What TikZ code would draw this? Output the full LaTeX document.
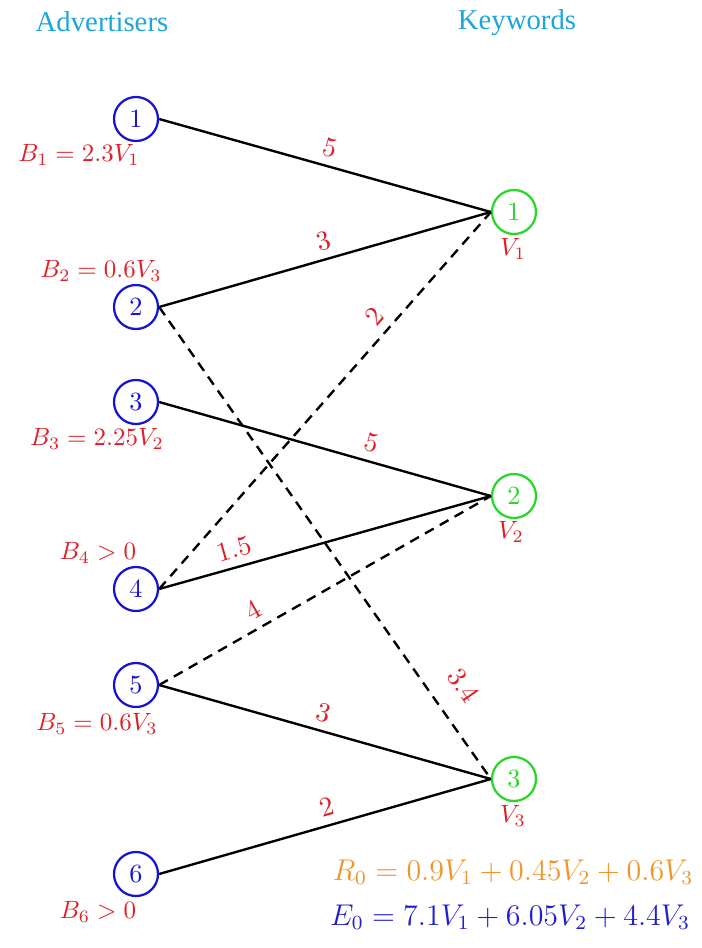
\documentclass[tikz,border=0pt]{standalone}
\usepackage{fontspec}
\newfontfamily\titlefont{Liberation Serif}
\definecolor{labred}{RGB}{225,30,40}
\definecolor{advblue}{RGB}{20,20,210}
\definecolor{kwgreen}{RGB}{40,215,40}
\definecolor{rorange}{RGB}{240,150,40}
\definecolor{eblue}{RGB}{30,30,210}
\definecolor{titlecyan}{RGB}{30,165,220}
\begin{document}
\begin{tikzpicture}[x=0.4pt,y=-0.4pt,
  adv/.style={circle,draw=advblue,line width=0.9pt,minimum size=17.6pt,inner sep=0pt,text=advblue,font=\fontsize{10.5}{12}\selectfont},
  kw/.style={circle,draw=kwgreen,line width=0.9pt,minimum size=17.6pt,inner sep=0pt,text=kwgreen,font=\fontsize{10.5}{12}\selectfont},
  lab/.style={text=labred,inner sep=0pt,font=\fontsize{10.4}{12}\selectfont},
  ttl/.style={text=titlecyan,inner sep=0pt,font=\titlefont\fontsize{11.5}{13}\selectfont},
  eq/.style={inner sep=0pt,font=\fontsize{11.5}{13}\selectfont},
  edgeline/.style={line width=0.95pt,black},
  dashedge/.style={edgeline,dash pattern=on 4pt off 2.8pt},
  wt/.style={text=labred,sloped,above,font=\fontsize{11}{12}\selectfont}]
\useasboundingbox (0,0) rectangle (701,948);
\node[ttl] (tadv) at (102,22) {Advertisers};
\node[ttl] (tkw) at (517,23) {Keywords};
\node[adv] (a1) at (136,119) {1};
\node[adv] (a2) at (136,307) {2};
\node[adv] (a3) at (136,402) {3};
\node[adv] (a4) at (136,589) {4};
\node[adv] (a5) at (136,685) {5};
\node[adv] (a6) at (136,874) {6};
\node[kw] (k1) at (514,212) {1};
\node[kw] (k2) at (514,496) {2};
\node[kw] (k3) at (514,779) {3};
\node[lab] (b1) at (79,155) {$B_1 = 2.3V_1$};
\node[lab] (b2) at (101,271) {$B_2 = 0.6V_3$};
\node[lab] (b3) at (97,439) {$B_3 = 2.25V_2$};
\node[lab] (b4) at (98,553) {$B_4 > 0$};
\node[lab] (b5) at (97,724) {$B_5 = 0.6V_3$};
\node[lab] (b6) at (98,912) {$B_6 > 0$};
\node[lab] (v1) at (513,249) {$V_1$};
\node[lab] (v2) at (511,532) {$V_2$};
\node[lab] (v3) at (513,816) {$V_3$};
\node[eq,text=rorange] (r0) at (513,872) {$R_0 = 0.9V_1 + 0.45V_2 + 0.6V_3$};
\node[eq,text=eblue] (e0) at (510,917) {$E_0 = 7.1V_1 + 6.05V_2 + 4.4V_3$};
\draw[edgeline] (a1.east) -- node[wt,pos=0.5] {$5$} (k1.west);
\draw[edgeline] (a2.east) -- node[wt,pos=0.51] {$3$} (k1.west);
\draw[dashedge] (a2.east) -- node[wt,pos=0.84,above=5pt] {$3.4$} (k3.west);
\draw[edgeline] (a3.east) -- node[wt,pos=0.625] {$5$} (k2.west);
\draw[dashedge] (a4.east) -- node[wt,pos=0.69] {$2$} (k1.west);
\draw[edgeline] (a4.east) -- node[wt,pos=0.24] {$1.5$} (k2.west);
\draw[dashedge] (a5.east) -- node[wt,pos=0.31] {$4$} (k2.west);
\draw[edgeline] (a5.east) -- node[wt,pos=0.48] {$3$} (k3.west);
\draw[edgeline] (a6.east) -- node[wt,pos=0.52] {$2$} (k3.west);
\end{tikzpicture}
\end{document}
